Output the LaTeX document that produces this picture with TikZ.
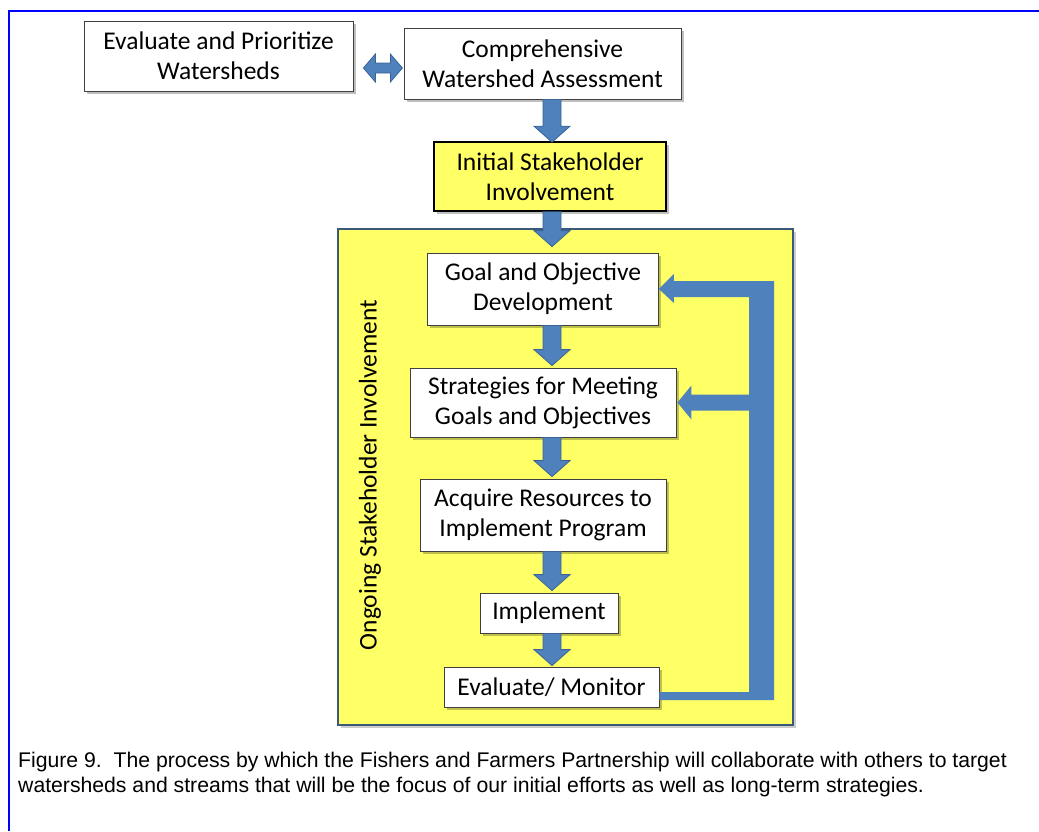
\documentclass[tikz,border=0pt]{standalone}
\usepackage{fontspec}
\setmainfont{Carlito}
\newfontfamily\capfont{Liberation Sans}
\usetikzlibrary{calc,shadows}
\definecolor{arrfill}{HTML}{4F81BD}
\definecolor{arrline}{HTML}{3A6496}
\definecolor{yel}{HTML}{FFFF66}
\definecolor{bigline}{HTML}{3B5A7A}
\begin{document}
\begin{tikzpicture}[x=1pt,y=-1pt,
  boxnode/.style={draw=black!75, fill=white, line width=0.8pt, align=center, inner sep=0pt,
    font=\fontsize{25.5}{30}\selectfont,
    drop shadow={shadow xshift=2.5pt, shadow yshift=-2.5pt, fill=black, opacity=0.25}},
  barrow/.style={fill=arrfill, draw=arrline, line width=0.8pt, line join=miter}]
\useasboundingbox (0,0) rectangle (1039,831);
\fill[white] (0,0) rectangle (1039,831);
\draw[blue, line width=2pt] (9,831) -- (9,11) -- (1039,11);

% big yellow frame
\node[draw=bigline, fill=yel, line width=1.6pt, minimum width=455pt, minimum height=496pt, inner sep=0pt,
  drop shadow={shadow xshift=2.5pt, shadow yshift=-2.5pt, fill=black, opacity=0.2}] (big) at (565.5,477) {};
\node[rotate=90, font=\fontsize{25.5}{30}\selectfont] (ongoing) at (370,475) {Ongoing Stakeholder Involvement};

\node[boxnode, minimum width=269pt, minimum height=70pt] (eval) at (218.5,56) {Evaluate and Prioritize\\Watersheds};
\node[boxnode, minimum width=277pt, minimum height=71pt] (comp) at (542.5,63.5) {Comprehensive\\Watershed Assessment};
\node[boxnode, fill=yel, draw=black, line width=1.6pt, minimum width=232pt, minimum height=69pt] (init) at (550,176.5) {Initial Stakeholder\\Involvement};
\node[boxnode, minimum width=231pt, minimum height=72pt] (goal) at (543,289) {Goal and Objective\\Development};
\node[boxnode, minimum width=266pt, minimum height=69pt] (strat) at (543,402.5) {Strategies for Meeting\\Goals and Objectives};
\node[boxnode, minimum width=246pt, minimum height=72pt] (acq) at (543,515) {Acquire Resources to\\Implement Program};
\node[boxnode, minimum width=138pt, minimum height=40pt] (impl) at (549,613) {Implement};
\node[boxnode, minimum width=215pt, minimum height=40pt] (mon) at (551.5,687) {Evaluate/ Monitor};

% down arrows: #1 from node, #2 to node, tip overshoot
\newcommand\dnarrow[3]{%
  \path let \p1=(#1.south), \p2=(#2.north) in
    [barrow] (552pt,\y1) -- (561pt,\y1) -- (561pt,\y2+#3+16pt) -- (570pt,\y2+#3+16pt)
    -- (552pt,\y2+#3) -- (534pt,\y2+#3+16pt) -- (543pt,\y2+#3+16pt) -- (543pt,\y1) -- cycle;}
\dnarrow{comp}{init}{-1pt}
\dnarrow{init}{goal}{6pt}
\dnarrow{goal}{strat}{2pt}
\dnarrow{strat}{acq}{2pt}
\dnarrow{acq}{impl}{2pt}
\dnarrow{impl}{mon}{1pt}

% double arrow between top boxes
\path[barrow] ($(eval.east)+(10,12)$) -- ++(12,-14) -- ++(0,9) -- ++(15,0) -- ++(0,-9) -- ++(12,14)
  -- ++(-12,14) -- ++(0,-9) -- ++(-15,0) -- ++(0,9) -- cycle;

% feedback loop
\path[barrow, draw=none] let \p1=(mon.east), \p2=(goal.east) in
  (\x1,\y1-5pt) -- (749pt,\y1-5pt) -- (749pt,\y2-8pt) -- (\x2+15pt,\y2-8pt) -- (\x2+15pt,\y2-14pt)
  -- (\x2,\y2) -- (\x2+15pt,\y2+15pt) -- (\x2+15pt,\y2+8pt) -- (774pt,\y2+8pt) -- (774pt,\y1-13pt)
  -- (\x1,\y1-13pt) -- cycle;
\path[barrow, draw=none] let \p1=(strat.east) in
  (750pt,\y1+8pt) -- (\x1+15pt,\y1+8pt) -- (\x1+15pt,\y1+17pt) -- (\x1+1pt,\y1) -- (\x1+15pt,\y1-17pt)
  -- (\x1+15pt,\y1-8pt) -- (750pt,\y1-8pt) -- cycle;

\node[anchor=base west, align=left, inner sep=0pt, font=\capfont\fontsize{21.2}{25}\selectfont] (caption) at (18,792)
  {Figure 9.\ \ The process by which the Fishers and Farmers Partnership will collaborate with others to target\\
   watersheds and streams that will be the focus of our initial efforts as well as long-term strategies.};
\end{tikzpicture}
\end{document}
